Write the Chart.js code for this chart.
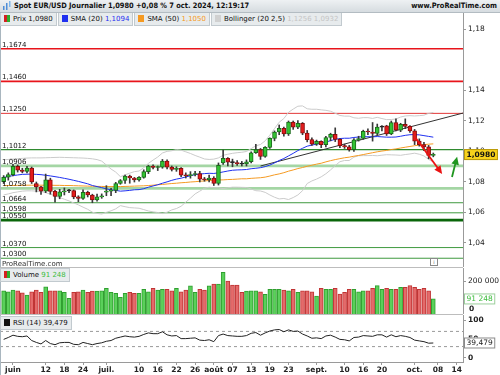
<!DOCTYPE html>
<html lang="fr">
<head>
<meta charset="utf-8">
<title>Spot EUR/USD Journalier</title>
<script src="https://cdn.jsdelivr.net/npm/chart.js@4.4.1/dist/chart.umd.min.js"></script>
<style>
  html, body { margin: 0; padding: 0; }
  body { width: 500px; height: 375px; position: relative; overflow: hidden; background: #fff;
         font-family: "DejaVu Sans", sans-serif; color: #111; }
  .abs { position: absolute; }
  canvas { position: absolute; left: 0; }
  #header { left: 0; top: 0; width: 500px; height: 12px; background: linear-gradient(#eef1f3, #d6dce0); border-bottom: 1px solid #b3bcc2; }
  #title { left: 14px; top: 0; font: bold 7.4px "DejaVu Sans Condensed", "DejaVu Sans", sans-serif; line-height: 12px; white-space: nowrap; }
  #site { right: 3px; top: 0; font: bold 7.4px "DejaVu Sans Condensed", "DejaVu Sans", sans-serif; line-height: 12px; }
  #edge { left: 0; top: 12px; width: 1px; height: 363px; background: #a9b6bf; }
  #legendRow { left: 0; top: 13px; display: flex; gap: 1px; }
  .legend { height: 12px; background: #e7ebed; border: 1px solid #c2cacf; border-top: none; font-size: 7px; line-height: 12px; white-space: nowrap; padding-right: 3px; }
  .sw { display: inline-block; width: 6px; height: 7px; vertical-align: -1px; margin: 0 3px 0 3px; }
  .split { background: linear-gradient(90deg, #d42020 50%, #2eae2e 50%); }
  .sep { left: 0; width: 463px; height: 1px; background: #bdbdbd; }
  .info { width: 6px; height: 6px; border: 1px solid #8a8a8a; font-size: 5px; line-height: 6px; text-align: center; color: #666; background: #fff; }
</style>
</head>
<body>
<div id="header" class="abs">
  <svg class="abs" style="left:2px;top:1px" width="10" height="10">
    <rect x="1" y="5" width="1.5" height="4" fill="#4f8ed8"/>
    <rect x="4" y="2" width="1.5" height="7" fill="#4f8ed8"/>
    <rect x="7" y="0" width="1.5" height="6" fill="#7fb6ea"/>
  </svg>
  <div id="title" class="abs"></div>
  <div id="site" class="abs">www.ProRealTime.com</div>
</div>
<canvas id="mainChart" width="500" height="254" style="top:13px"></canvas>
<canvas id="volChart" width="500" height="46" style="top:268px"></canvas>
<canvas id="rsiChart" width="500" height="60" style="top:315px"></canvas>
<div id="edge" class="abs"></div>
<div id="legendRow" class="abs"></div>
<div id="volLegend" class="abs legend" style="left:0;top:268px;border-top:1px solid #c2cacf"></div>
<div id="rsiLegend" class="abs legend" style="left:0;top:316px;border-top:1px solid #c2cacf"></div>
<div class="abs sep" style="top:267px"></div>
<div class="abs sep" style="top:314px"></div>
<div class="abs info" style="left:430px;top:258px">i</div>

<script>
// Trading-day index of the first candle (30 mai = -2, 3 juin = 0)
const firstIdx = -2;
const X_MIN = -2.78, X_MAX = 96.36;

// Daily candles, 30 mai -> 7 oct. 2024
const opens = [
  1.0802,1.0831,1.0848,1.0903,1.0878,1.0870,1.0892,1.0790,1.0768,1.0740,
  1.0815,1.0738,1.0705,1.0735,1.0742,1.0743,1.0702,1.0692,1.0733,1.0715,
  1.0682,1.0702,1.0733,1.0740,1.0745,1.0790,1.0810,1.0838,1.0826,1.0814,
  1.0830,1.0868,1.0905,1.0895,1.0898,1.0937,1.0898,1.0882,1.0890,1.0845,
  1.0841,1.0849,1.0856,1.0818,1.0815,1.0825,1.0790,1.0925,1.0955,1.0930,
  1.0927,1.0920,1.0918,1.0933,1.0992,1.1012,1.0967,1.1027,1.1086,1.1128,
  1.1152,1.1115,1.1193,1.1160,1.1185,1.1120,1.1078,1.1048,1.1066,1.1044,
  1.1092,1.1112,1.1080,1.1038,1.1030,1.1012,1.1076,1.1085,1.1132,1.1128,
  1.1118,1.1160,1.1168,1.1115,1.1190,1.1140,1.1178,1.1165,1.1135,1.1068,
  1.1045,1.1030,1.0975
];
const highs = [
  1.0842,1.0860,1.0916,1.0912,1.0890,1.0902,1.0898,1.0800,1.0772,1.0852,
  1.0825,1.0745,1.0752,1.0761,1.0752,1.0748,1.0710,1.0748,1.0740,1.0720,
  1.0720,1.0722,1.0776,1.0758,1.0798,1.0816,1.0845,1.0845,1.0830,1.0835,
  1.0880,1.0910,1.0912,1.0905,1.0948,1.0945,1.0905,1.0900,1.0895,1.0860,
  1.0868,1.0870,1.0870,1.0830,1.0845,1.0835,1.0925,1.1009,1.0960,1.0950,
  1.0940,1.0935,1.0945,1.0998,1.1047,1.1020,1.1032,1.1090,1.1135,1.1174,
  1.1160,1.1200,1.1200,1.1202,1.1190,1.1138,1.1090,1.1075,1.1070,1.1100,
  1.1120,1.1155,1.1085,1.1048,1.1040,1.1085,1.1100,1.1140,1.1148,1.1190,
  1.1180,1.1170,1.1172,1.1200,1.1215,1.1185,1.1214,1.1170,1.1145,1.1083,
  1.1060,1.1040,1.0990
];
const lows = [
  1.0790,1.0812,1.0840,1.0865,1.0860,1.0860,1.0790,1.0735,1.0718,1.0730,
  1.0720,1.0668,1.0690,1.0715,1.0730,1.0690,1.0671,1.0685,1.0702,1.0664,
  1.0675,1.0693,1.0710,1.0710,1.0730,1.0785,1.0790,1.0792,1.0800,1.0805,
  1.0825,1.0855,1.0885,1.0875,1.0890,1.0885,1.0872,1.0870,1.0835,1.0826,
  1.0825,1.0840,1.0800,1.0805,1.0800,1.0777,1.0780,1.0915,1.0905,1.0900,
  1.0908,1.0905,1.0905,1.0925,1.0988,1.0948,1.0962,1.1020,1.1070,1.1110,
  1.1100,1.1105,1.1145,1.1150,1.1110,1.1063,1.1040,1.1040,1.1025,1.1030,
  1.1070,1.1065,1.1025,1.1020,1.1002,1.1000,1.1068,1.1080,1.1110,1.1068,
  1.1110,1.1135,1.1105,1.1110,1.1135,1.1130,1.1150,1.1125,1.1045,1.1035,
  1.1005,1.0952,1.0965
];
const closes = [
  1.0831,1.0848,1.0903,1.0878,1.0870,1.0892,1.0800,1.0768,1.0740,1.0815,
  1.0738,1.0705,1.0735,1.0742,1.0743,1.0702,1.0692,1.0733,1.0715,1.0682,
  1.0702,1.0710,1.0740,1.0745,1.0790,1.0810,1.0838,1.0826,1.0814,1.0830,
  1.0868,1.0905,1.0895,1.0898,1.0937,1.0898,1.0882,1.0890,1.0845,1.0841,
  1.0849,1.0856,1.0818,1.0815,1.0825,1.0790,1.0910,1.0955,1.0930,1.0927,
  1.0920,1.0918,1.0933,1.0992,1.1012,1.0967,1.1027,1.1086,1.1128,1.1152,
  1.1115,1.1193,1.1160,1.1185,1.1120,1.1078,1.1048,1.1066,1.1044,1.1092,
  1.1112,1.1080,1.1038,1.1030,1.1012,1.1076,1.1085,1.1132,1.1128,1.1118,
  1.1160,1.1162,1.1115,1.1190,1.1140,1.1178,1.1165,1.1135,1.1068,1.1045,
  1.1030,1.0975,1.0980
];

// Indicators
const sma20 = [
  1.0830,1.0836,1.0842,1.0846,1.0850,1.0851,1.0852,1.0850,1.0848,1.0844,
  1.0840,1.0835,1.0830,1.0824,1.0818,1.0811,1.0804,1.0796,1.0788,1.0777,
  1.0770,1.0763,1.0755,1.0749,1.0745,1.0740,1.0742,1.0745,1.0749,1.0750,
  1.0756,1.0766,1.0774,1.0782,1.0792,1.0801,1.0811,1.0819,1.0825,1.0833,
  1.0841,1.0848,1.0852,1.0855,1.0857,1.0856,1.0860,1.0866,1.0872,1.0877,
  1.0879,1.0880,1.0882,1.0887,1.0890,1.0894,1.0901,1.0911,1.0925,1.0941,
  1.0954,1.0971,1.0988,1.1006,1.1021,1.1035,1.1042,1.1048,1.1054,1.1062,
  1.1071,1.1080,1.1085,1.1087,1.1087,1.1092,1.1095,1.1097,1.1097,1.1096,
  1.1098,1.1096,1.1094,1.1094,1.1095,1.1100,1.1106,1.1110,1.1111,1.1109,
  1.1104,1.1099,1.1094
];
const sma50 = [
  1.0776,1.0777,1.0777,1.0778,1.0778,1.0779,1.0779,1.0779,1.0779,1.0779,
  1.0779,1.0778,1.0778,1.0777,1.0777,1.0776,1.0775,1.0774,1.0773,1.0772,
  1.0771,1.0771,1.0770,1.0770,1.0770,1.0770,1.0771,1.0772,1.0773,1.0774,
  1.0775,1.0777,1.0779,1.0782,1.0784,1.0787,1.0790,1.0792,1.0795,1.0797,
  1.0800,1.0802,1.0805,1.0807,1.0810,1.0812,1.0813,1.0814,1.0816,1.0817,
  1.0819,1.0821,1.0821,1.0824,1.0826,1.0828,1.0832,1.0839,1.0847,1.0853,
  1.0861,1.0871,1.0879,1.0888,1.0895,1.0903,1.0910,1.0917,1.0923,1.0932,
  1.0940,1.0947,1.0953,1.0959,1.0963,1.0969,1.0974,1.0980,1.0986,1.0992,
  1.0998,1.1003,1.1007,1.1013,1.1017,1.1023,1.1028,1.1033,1.1038,1.1042,
  1.1045,1.1048,1.1050
];
const bollUpper = [
  1.0945,1.0948,1.0950,1.0953,1.0955,1.0957,1.0958,1.0958,1.0958,1.0959,
  1.0960,1.0961,1.0962,1.0961,1.0960,1.0959,1.0958,1.0957,1.0955,1.0952,
  1.0947,1.0937,1.0911,1.0885,1.0865,1.0835,1.0847,1.0858,1.0868,1.0872,
  1.0894,1.0922,1.0944,1.0964,1.0990,1.1001,1.1005,1.1012,1.1009,1.0998,
  1.0987,1.0974,1.0963,1.0951,1.0948,1.0950,1.0958,1.0975,1.0982,1.0988,
  1.0992,1.0995,1.1000,1.1019,1.1037,1.1046,1.1070,1.1107,1.1150,1.1192,
  1.1216,1.1257,1.1278,1.1297,1.1299,1.1280,1.1277,1.1277,1.1273,1.1270,
  1.1264,1.1251,1.1236,1.1232,1.1232,1.1221,1.1218,1.1222,1.1222,1.1217,
  1.1224,1.1216,1.1209,1.1210,1.1213,1.1226,1.1233,1.1235,1.1233,1.1235,
  1.1238,1.1250,1.1256
];
const bollLower = [
  1.0715,1.0722,1.0730,1.0735,1.0740,1.0742,1.0742,1.0740,1.0738,1.0730,
  1.0720,1.0709,1.0698,1.0687,1.0676,1.0663,1.0650,1.0635,1.0621,1.0602,
  1.0594,1.0590,1.0601,1.0611,1.0624,1.0645,1.0638,1.0632,1.0630,1.0628,
  1.0619,1.0610,1.0604,1.0600,1.0593,1.0602,1.0617,1.0626,1.0641,1.0668,
  1.0694,1.0722,1.0740,1.0759,1.0766,1.0762,1.0762,1.0757,1.0762,1.0766,
  1.0766,1.0765,1.0764,1.0754,1.0743,1.0741,1.0732,1.0715,1.0700,1.0689,
  1.0692,1.0685,1.0698,1.0715,1.0743,1.0790,1.0807,1.0819,1.0834,1.0854,
  1.0879,1.0908,1.0933,1.0941,1.0941,1.0963,1.0972,1.0973,1.0973,1.0974,
  1.0972,1.0976,1.0979,1.0978,1.0977,1.0975,1.0980,1.0984,1.0989,1.0982,
  1.0971,1.0948,1.0932
];
const volumes = [
  141000,135000,145000,141000,129000,115000,135000,145000,131000,165000,
  141000,141000,141000,131000,95000,131000,135000,145000,131000,139000,
  139000,141000,155000,131000,125000,101000,125000,131000,125000,125000,
  149000,135000,155000,145000,149000,149000,141000,155000,135000,145000,
  170000,131000,149000,145000,170000,182000,182000,253000,200000,176000,
  176000,131000,139000,141000,141000,135000,119000,149000,149000,149000,
  145000,141000,149000,131000,141000,141000,135000,109000,155000,149000,
  149000,155000,121000,131000,149000,149000,135000,141000,141000,155000,
  172000,149000,155000,149000,149000,161000,161000,172000,161000,149000,
  155000,141000,91248
];
const rsi = [
  49,54,60,57,56,58,46,41,37,46,
  38,35,40,41,41,36,35,41,38,35,
  38,40,44,46,52,55,58,56,55,57,
  62,66,64,64,69,61,58,59,51,51,
  52,53,47,46,48,43,59,63,59,58,
  57,57,59,65,67,60,66,71,74,75,
  69,74,70,71,63,58,52,53,51,58,
  60,55,49,48,45,54,55,59,58,57,
  61,61,55,61,56,59,57,54,47,45,
  43,39,39.479
];

// Horizontal price levels drawn on the chart
const levelValues = [1.1674, 1.1460, 1.1250, 1.1012, 1.0906, 1.0758, 1.0664, 1.0598, 1.0550, 1.0370, 1.0300];
const levelColors = ['#e8141b','#e8141b','#e23838','#2f8a2f','#a4d6a4','#a4d6a4','#3f9a3f','#3f9a3f','#0a660a','#3f9a3f','#3f9a3f'];
const levelWidths = [1.6, 1.6, 1, 1.2, 2.6, 2.6, 1, 1, 2.6, 1, 1];

// Trend line and arrows (x = trading-day index, y = price)
const trendX = [53, 96.36];
const trendY = [1.0905, 1.1252];
const redArrow = [86.2, 1.1090, 91.9, 1.0852];
const greenArrow = [94.0, 1.0833, 95.1, 1.0966];

// Axis ticks
const priceTicks = [1.04, 1.06, 1.08, 1.10, 1.12, 1.14, 1.18];
const rsiTicks = [0, 50, 100];
const rsiBands = [70, 30];
const xTickIdx = [0, 7, 11, 15, 20, 27, 31, 35, 39, 43, 47, 51, 55, 59, 65, 71, 75, 79, 86, 91, 95];
const xTickText = ['juin','12','18','24','juil.','10','16','22','26','août','07','13','19','23','sept.','10','16','20','oct.','08','14'];

const FONT = '"DejaVu Sans", sans-serif';
Chart.defaults.font.family = FONT;
Chart.defaults.color = '#222';

const fmt4 = v => v.toFixed(4).replace('.', ',');
const fmtVol = v => String(Math.round(v)).replace(/\B(?=(\d{3})+(?!\d))/g, ' ');
const pts = arr => arr.map((v, i) => ({ x: firstIdx + i, y: v }));

const last = closes[closes.length - 1];

// Header and legends
document.getElementById('title').textContent =
  'Spot EUR/USD Journalier ' + fmt4(last) + ' +0,08 % 7 oct. 2024, 12:19:17';
document.getElementById('legendRow').innerHTML =
  '<div class="legend"><span class="sw split"></span>Prix ' + fmt4(last) + '</div>' +
  '<div class="legend"><span class="sw" style="background:#1f30f0"></span>SMA (20) <span style="color:#1f30f0">' + fmt4(sma20[sma20.length - 1]) + '</span></div>' +
  '<div class="legend"><span class="sw" style="background:#f59a22"></span>SMA (50) <span style="color:#f59a22">' + fmt4(sma50[sma50.length - 1]) + '</span></div>' +
  '<div class="legend"><span class="sw" style="background:#d0d0d0"></span>Bollinger (20 2,5) <span style="color:#c4c4c4">' +
  fmt4(bollUpper[bollUpper.length - 1]) + ' ' + fmt4(bollLower[bollLower.length - 1]) + '</span></div>';
document.getElementById('volLegend').innerHTML =
  '<span class="sw split"></span>Volume <span style="color:#3cbc3c">' + fmtVol(volumes[volumes.length - 1]) + '</span>';
document.getElementById('rsiLegend').innerHTML =
  '<span class="sw" style="background:#111"></span>RSI (14) ' + rsi[rsi.length - 1].toFixed(3).replace('.', ',');

// Shared axis sizing so the three panels line up
function rightAxisFit(width) {
  return s => { s.width = width; s.paddingTop = 0; s.paddingBottom = 0; };
}

function drawArrow(ctx, xs, ys, a, color) {
  const x0 = xs.getPixelForValue(a[0]), y0 = ys.getPixelForValue(a[1]);
  const x1 = xs.getPixelForValue(a[2]), y1 = ys.getPixelForValue(a[3]);
  const ang = Math.atan2(y1 - y0, x1 - x0);
  const head = 8, half = 3.8;
  ctx.strokeStyle = color;
  ctx.fillStyle = color;
  ctx.lineWidth = 1.8;
  ctx.beginPath();
  ctx.moveTo(x0, y0);
  ctx.lineTo(x1 - Math.cos(ang) * head * 0.7, y1 - Math.sin(ang) * head * 0.7);
  ctx.stroke();
  ctx.beginPath();
  ctx.moveTo(x1, y1);
  ctx.lineTo(x1 - head * Math.cos(ang) + half * Math.sin(ang), y1 - head * Math.sin(ang) - half * Math.cos(ang));
  ctx.lineTo(x1 - head * Math.cos(ang) - half * Math.sin(ang), y1 - head * Math.sin(ang) + half * Math.cos(ang));
  ctx.closePath();
  ctx.fill();
}

function valueBox(ctx, x, yMid, text, fill, stroke, color, bold) {
  ctx.font = (bold ? 'bold ' : '') + '7.5px ' + FONT;
  const w = ctx.measureText(text).width + 5;
  ctx.fillStyle = fill;
  ctx.fillRect(x, yMid - 5.5, w, 11);
  ctx.strokeStyle = stroke;
  ctx.lineWidth = 1;
  ctx.strokeRect(x + 0.5, yMid - 5, w - 1, 10);
  ctx.fillStyle = color;
  ctx.textBaseline = 'middle';
  ctx.textAlign = 'left';
  ctx.fillText(text, x + 2.5, yMid + 0.5);
}

// ---------- Main price panel ----------
const up = closes.map((c, i) => c >= opens[i]);
const doji = closes.map((c, i) => Math.abs(c - opens[i]) < 0.0003);
const bodyFill = closes.map((c, i) => doji[i] ? '#222' : (up[i] ? '#33c433' : '#e41c1c'));
const bodyLine = closes.map((c, i) => doji[i] ? '#222' : (up[i] ? '#1b6b1b' : '#870c0c'));

const mainOverlay = {
  id: 'mainOverlay',
  afterDatasetsDraw(chart) {
    const { ctx, chartArea, scales: { x, y } } = chart;
    ctx.save();
    ctx.font = '7px ' + FONT;
    ctx.fillStyle = '#111';
    ctx.textAlign = 'left';
    ctx.textBaseline = 'alphabetic';
    levelValues.forEach(v => ctx.fillText(fmt4(v), 2, y.getPixelForValue(v) - 2));
    ctx.fillStyle = '#333';
    ctx.fillText('ProRealTime.com', 2, chartArea.bottom - 1);
    drawArrow(ctx, x, y, redArrow, '#ea1212');
    drawArrow(ctx, x, y, greenArrow, '#1f961f');
    ctx.restore();
  },
  afterDraw(chart) {
    const { ctx, chartArea, scales: { y } } = chart;
    ctx.save();
    valueBox(ctx, chartArea.right + 1, y.getPixelForValue(last), fmt4(last), '#f7d21c', '#b99a0a', '#111', true);
    ctx.restore();
  }
};

const mainDatasets = [
  { type: 'bar', label: 'corps', order: 0, data: opens.map((o, i) => ({ x: firstIdx + i, y: [o, closes[i]] })),
    backgroundColor: bodyFill, borderColor: bodyLine, borderWidth: 1, borderSkipped: false,
    barThickness: 4, minBarLength: 1, grouped: false },
  { type: 'bar', label: 'mèches', order: 1, data: lows.map((l, i) => ({ x: firstIdx + i, y: [l, highs[i]] })),
    backgroundColor: '#3a3a3a', barThickness: 1, grouped: false },
  { type: 'line', label: 'SMA 20', order: 2, data: pts(sma20), borderColor: '#1f30f0', borderWidth: 1, pointRadius: 0 },
  { type: 'line', label: 'SMA 50', order: 3, data: pts(sma50), borderColor: '#f59a22', borderWidth: 1, pointRadius: 0 },
  { type: 'line', label: 'tendance', order: 4, data: trendX.map((v, i) => ({ x: v, y: trendY[i] })), borderColor: '#333', borderWidth: 1, pointRadius: 0 },
  { type: 'line', label: 'Boll haut', order: 5, data: pts(bollUpper), borderColor: '#cbcbcb', borderWidth: 1, pointRadius: 0 },
  { type: 'line', label: 'Boll bas', order: 6, data: pts(bollLower), borderColor: '#cbcbcb', borderWidth: 1, pointRadius: 0 }
];
levelValues.forEach((v, i) => {
  mainDatasets.push({ type: 'line', label: 'niveau ' + v, order: 7 + i,
    data: [{ x: X_MIN, y: v }, { x: X_MAX, y: v }],
    borderColor: levelColors[i], borderWidth: levelWidths[i], pointRadius: 0 });
});

new Chart(document.getElementById('mainChart'), {
  type: 'bar',
  data: { datasets: mainDatasets },
  options: {
    responsive: false, animation: false, devicePixelRatio: 1,
    layout: { padding: 0 },
    plugins: { legend: { display: false }, tooltip: { enabled: false } },
    scales: {
      x: { type: 'linear', min: X_MIN, max: X_MAX, display: false, offset: false },
      y: {
        position: 'right', min: 1.02426, max: 1.19082,
        afterBuildTicks: s => { s.ticks = priceTicks.map(v => ({ value: v })); },
        afterFit: rightAxisFit(37),
        ticks: { callback: v => v.toFixed(2).replace('.', ','), font: { size: 7.5 }, padding: 2, color: '#222' },
        grid: { drawOnChartArea: false, tickLength: 3, color: '#999' },
        border: { color: '#9a9a9a' }
      }
    }
  },
  plugins: [mainOverlay]
});

// ---------- Volume panel ----------
const volOverlay = {
  id: 'volOverlay',
  afterDraw(chart) {
    const { ctx, chartArea, scales: { y } } = chart;
    ctx.save();
    ctx.font = 'bold 7.5px ' + FONT;
    ctx.fillStyle = '#222';
    ctx.textBaseline = 'middle';
    ctx.fillText('0', chartArea.right + 6, y.getPixelForValue(0) - 5);
    const v = volumes[volumes.length - 1];
    valueBox(ctx, chartArea.right + 1, y.getPixelForValue(v), fmtVol(v), '#fff', '#9ccf9c', '#3cbc3c', false);
    ctx.restore();
  }
};

new Chart(document.getElementById('volChart'), {
  type: 'bar',
  data: {
    datasets: [{
      label: 'Volume', data: pts(volumes),
      backgroundColor: up.map(u => u ? '#5ad05a' : '#e46a6a'),
      borderColor: up.map(u => u ? '#2f9f2f' : '#c03434'),
      borderWidth: 1, borderSkipped: 'start', barThickness: 4, grouped: false
    }]
  },
  options: {
    responsive: false, animation: false, devicePixelRatio: 1,
    layout: { padding: 0 },
    plugins: { legend: { display: false }, tooltip: { enabled: false } },
    scales: {
      x: { type: 'linear', min: X_MIN, max: X_MAX, display: false, offset: false },
      y: {
        position: 'right', min: 0, max: 278800,
        afterBuildTicks: s => { s.ticks = [{ value: 200000 }]; },
        afterFit: rightAxisFit(37),
        ticks: { callback: v => fmtVol(v), font: { size: 7.5 }, padding: 2, color: '#222' },
        grid: { drawOnChartArea: false, tickLength: 3, color: '#999' },
        border: { color: '#9a9a9a' }
      }
    }
  },
  plugins: [volOverlay]
});

// ---------- RSI panel ----------
const rsiOverlay = {
  id: 'rsiOverlay',
  afterDraw(chart) {
    const { ctx, chartArea, scales: { y } } = chart;
    ctx.save();
    const v = rsi[rsi.length - 1];
    valueBox(ctx, chartArea.right + 1, y.getPixelForValue(v), v.toFixed(3).replace('.', ','), '#fff', '#8a8a8a', '#222', false);
    ctx.restore();
  }
};

const rsiDatasets = [
  { type: 'line', label: 'RSI', order: 0, data: pts(rsi), borderColor: '#222', borderWidth: 1, pointRadius: 0 }
];
rsiBands.forEach((b, i) => {
  rsiDatasets.push({ type: 'line', label: 'RSI ' + b, order: 1 + i,
    data: [{ x: X_MIN, y: b }, { x: X_MAX, y: b }],
    borderColor: '#999', borderWidth: 1, borderDash: [3, 3], pointRadius: 0 });
});

new Chart(document.getElementById('rsiChart'), {
  type: 'line',
  data: { datasets: rsiDatasets },
  options: {
    responsive: false, animation: false, devicePixelRatio: 1,
    layout: { padding: 0 },
    plugins: { legend: { display: false }, tooltip: { enabled: false } },
    scales: {
      x: {
        type: 'linear', min: X_MIN, max: X_MAX, offset: false,
        afterBuildTicks: s => { s.ticks = xTickIdx.map(v => ({ value: v })); },
        afterFit: s => { s.height = 13; s.paddingLeft = 0; s.paddingRight = 0; },
        ticks: {
          callback: v => xTickText[xTickIdx.indexOf(v)],
          autoSkip: false, maxRotation: 0, padding: 1,
          font: { size: 7.5, weight: 'bold' }, color: '#222'
        },
        grid: { drawOnChartArea: false, tickLength: 3, color: '#999' },
        border: { color: '#9a9a9a' }
      },
      y: {
        position: 'right', min: -10.53, max: 113.16,
        afterBuildTicks: s => { s.ticks = rsiTicks.map(v => ({ value: v })); },
        afterFit: rightAxisFit(37),
        ticks: { font: { size: 7.5, weight: 'bold' }, padding: 2, color: '#222' },
        grid: { drawOnChartArea: false, tickLength: 3, color: '#999' },
        border: { color: '#9a9a9a' }
      }
    }
  },
  plugins: [rsiOverlay]
});
</script>
</body>
</html>
